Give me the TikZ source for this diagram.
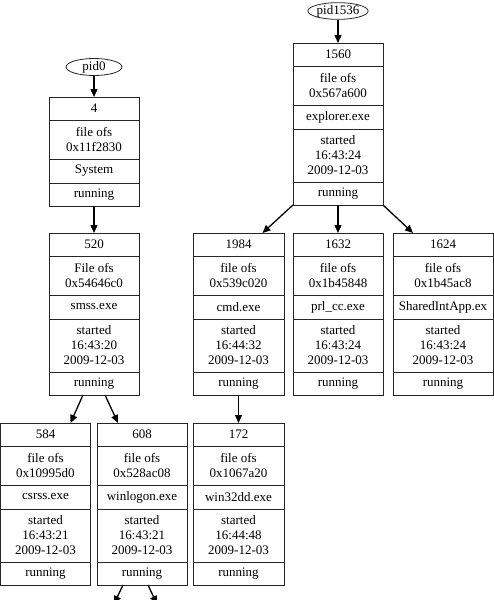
\documentclass[tikz,border=0pt]{standalone}
\usepackage{fontspec}
\setmainfont{Liberation Serif}
\usetikzlibrary{arrows.meta,shapes.geometric}
\tikzset{
  txt/.style={font=\fontsize{13}{15}\selectfont},
  cell/.style={txt, draw=black!85, line width=0.8pt, inner sep=0pt, outer sep=0pt, align=center, anchor=north west},
  pidnode/.style={txt, draw=black!85, ellipse, line width=0.8pt, inner sep=0pt, minimum height=17pt},
  arr/.style={line width=1.3pt, -{Triangle[length=8pt,width=7pt]}}
}
% name, x, y, width, pid, ofslabel, hex, exe, time
\newcommand\procbox[9]{%
  \node[cell, minimum width=#4pt, minimum height=23pt] (#1-1) at (#2,#3) {#5};
  \node[cell, minimum width=#4pt, minimum height=39pt] (#1-2) at (#1-1.south west) {#6\\#7};
  \node[cell, minimum width=#4pt, minimum height=24pt] (#1-3) at (#1-2.south west) {#8};
  \node[cell, minimum width=#4pt, minimum height=53pt] (#1-4) at (#1-3.south west) {started\\#9\\2009-12-03};
  \node[cell, minimum width=#4pt, minimum height=23pt] (#1-5) at (#1-4.south west) {running};
}
\begin{document}
\begin{tikzpicture}[x=1pt,y=-1pt]
\clip (0,0) rectangle (494,600);
% pid nodes
\node[pidnode, minimum width=56pt] (pid0) at (94,67) {pid0};
\node[pidnode, minimum width=58pt, minimum height=16pt] (pid1536) at (338,11) {pid1536};
% box 4
\node[cell, minimum width=90pt, minimum height=23pt] (n4-1) at (49,97) {4};
\node[cell, minimum width=90pt, minimum height=39pt] (n4-2) at (n4-1.south west) {file ofs\\0x11f2830};
\node[cell, minimum width=90pt, minimum height=24pt] (n4-3) at (n4-2.south west) {System};
\node[cell, minimum width=90pt, minimum height=23pt] (n4-4) at (n4-3.south west) {running};
% other boxes
\procbox{n520}{49}{233}{90}{520}{File ofs}{0x54646c0}{smss.exe}{16:43:20}
\procbox{n584}{0.5}{423}{90}{584}{file ofs}{0x10995d0}{csrss.exe}{16:43:21}
\procbox{n608}{97}{423}{90}{608}{file ofs}{0x528ac08}{winlogon.exe}{16:43:21}
\procbox{n1560}{293}{43}{90}{1560}{file ofs}{0x567a600}{explorer.exe}{16:43:24}
\procbox{n1984}{193}{233}{91}{1984}{file ofs}{0x539c020}{cmd.exe}{16:44:32}
\procbox{n1632}{293}{233}{90}{1632}{file ofs}{0x1b45848}{prl\_cc.exe}{16:43:24}
\procbox{n1624}{393}{233}{100}{1624}{file ofs}{0x1b45ac8}{SharedIntApp.ex}{16:43:24}
\procbox{n172}{193}{423}{91}{172}{file ofs}{0x1067a20}{win32dd.exe}{16:44:48}
% connectors
\draw[arr] (pid0) -- (n4-1.north);
\draw[arr] (n4-4.south) -- (n520-1.north);
\draw[arr] ([xshift=-11pt]n520-5.south) -- ([xshift=25pt]n584-1.north);
\draw[arr] ([xshift=11pt]n520-5.south) -- ([xshift=-24pt]n608-1.north);
\coordinate (o1) at (114,604);
\coordinate (o2) at (157,604);
\draw[arr] ([xshift=-19pt]n608-5.south) -- (o1);
\draw[arr] ([xshift=6pt]n608-5.south) -- (o2);
\draw[arr] (pid1536) -- (n1560-1.north);
\draw[arr] (n1560-5.south west) -- ([xshift=24pt]n1984-1.north);
\draw[arr] (n1560-5.south) -- (n1632-1.north);
\draw[arr] (n1560-5.south east) -- ([xshift=-30pt]n1624-1.north);
\draw[arr] (n1984-5.south) -- (n172-1.north);
\end{tikzpicture}
\end{document}
